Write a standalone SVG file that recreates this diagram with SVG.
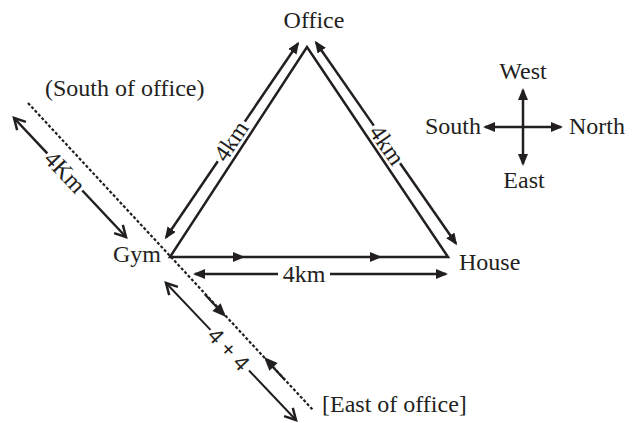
<svg xmlns="http://www.w3.org/2000/svg" width="642" height="423" viewBox="0 0 642 423">
<style>
.t{font-family:"Liberation Serif","Times New Roman",serif;font-size:24px;fill:#231f20}
.s{font-family:"Liberation Sans",Arial,sans-serif;font-size:22px;fill:#231f20}
.ln{stroke:#231f20;stroke-width:2.5;fill:none}
.thin{stroke:#231f20;stroke-width:2;fill:none}
.fa{marker-end:url(#fill)}
.oa{marker-end:url(#open)}
.ah{fill:#231f20}
</style>
<defs>
<marker id="fill" markerUnits="userSpaceOnUse" markerWidth="14" markerHeight="12" refX="10" refY="5" orient="auto">
<path d="M0,0 L12,5 L0,10 z" fill="#231f20"/>
</marker>
<marker id="open" markerUnits="userSpaceOnUse" markerWidth="16" markerHeight="16" refX="12" refY="7" orient="auto">
<path d="M1,1 L12,7 L1,13" fill="none" stroke="#231f20" stroke-width="2.5"/>
</marker>
</defs>
<g id="connectors">
<polygon id="triangle" class="ln" points="170,257 307,47 448,257"/>
<path class="ah" d="M245,257 L233,252 L233,262 z"/>
<path class="ah" d="M382,257 L370,252 L370,262 z"/>
<line class="ln fa" x1="217.8" y1="161.3" x2="166" y2="237.5"/>
<line class="ln fa" x1="244.8" y1="121.6" x2="298" y2="43.5"/>
<line class="ln fa" x1="373.8" y1="125.6" x2="316" y2="42.5"/>
<line class="ln fa" x1="400.1" y1="163.3" x2="456" y2="243.5"/>
<line class="ln fa" x1="278" y1="274" x2="195" y2="274"/>
<line class="ln fa" x1="330" y1="274" x2="446" y2="274"/>
<line x1="28" y1="103" x2="313" y2="410" stroke="#231f20" stroke-width="2.2" stroke-dasharray="3,2"/>
<line x1="205" y1="294.5" x2="218" y2="308.5" stroke="#231f20" stroke-width="2.2"/>
<path class="ah" d="M226,317 L212.4,310.9 L220.6,303.3 z"/>
<line x1="285" y1="380" x2="272" y2="366" stroke="#231f20" stroke-width="2.2"/>
<path class="ah" d="M264,357 L269.4,370.7 L277.6,363.1 z"/>
<line class="ln oa" x1="47.3" y1="153.4" x2="14" y2="118"/>
<line class="ln oa" x1="82.3" y1="190.5" x2="126" y2="237"/>
<line class="thin oa" x1="210.5" y1="329.9" x2="166" y2="283"/>
<line class="thin oa" x1="249" y1="370.5" x2="296" y2="420"/>
</g>
<g id="office"><text class="t" x="314" y="28" text-anchor="middle">Office</text></g>
<g id="gym"><text class="t" x="161" y="262" text-anchor="end">Gym</text></g>
<g id="house"><text class="t" x="459" y="270">House</text></g>
<g id="south-of-office"><text class="t" x="45" y="96">(South of office)</text></g>
<g id="east-of-office"><text class="t" x="322" y="412">[East of office]</text></g>
<g id="label-left"><text class="t" transform="translate(231,141) rotate(-55.8)" x="0" y="8" text-anchor="middle">4km</text></g>
<g id="label-right"><text class="t" transform="translate(387,145) rotate(55.2)" x="0" y="8" text-anchor="middle">4km</text></g>
<g id="label-bottom"><text class="t" x="304" y="282" text-anchor="middle">4km</text></g>
<g id="label-4Km"><text class="t" transform="translate(65,172) rotate(46.7)" x="0" y="8" text-anchor="middle">4Km</text></g>
<g id="label-4plus4"><text class="s" transform="translate(229,349) rotate(46.7)" x="0" y="8" text-anchor="middle">4 + 4</text></g>
<g id="compass">
<line class="ln fa" x1="523" y1="127" x2="523" y2="90"/>
<line class="ln fa" x1="523" y1="127" x2="523" y2="164"/>
<line class="ln fa" x1="523" y1="127" x2="485" y2="127"/>
<line class="ln fa" x1="523" y1="127" x2="561" y2="127"/>
<text class="t" x="523" y="79" text-anchor="middle">West</text>
<text class="t" x="569" y="134">North</text>
<text class="t" x="524" y="188" text-anchor="middle">East</text>
<text class="t" x="481" y="134" text-anchor="end">South</text>
</g>
</svg>
